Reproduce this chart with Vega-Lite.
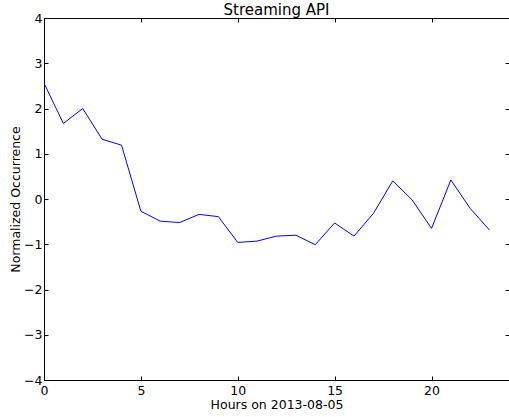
{
  "$schema": "https://vega.github.io/schema/vega-lite/v6.json",
  "autosize": "none",
  "width": 465,
  "height": 362,
  "padding": {"left": 44, "top": 18, "right": 0, "bottom": 37},
  "config": {
    "font": "DejaVu Sans",
    "view": {"stroke": "#000000", "strokeWidth": 1},
    "axis": {"grid": false, "domainColor": "#000000", "tickColor": "#000000", "labelColor": "#000000", "titleColor": "#000000", "labelFont": "DejaVu Sans", "titleFont": "DejaVu Sans", "labelFontSize": 12.5, "titleFontSize": 12.5, "titleFontWeight": "normal", "tickSize": -4, "tickWidth": 1}
  },
  "title": {"text": "Streaming API", "font": "DejaVu Sans", "fontSize": 15, "fontWeight": "normal", "color": "#000000", "offset": -6, "anchor": "middle"},
  "data": {"values": [
    {"hour": 0, "value": 2.56},
    {"hour": 1, "value": 1.67},
    {"hour": 2, "value": 2.0},
    {"hour": 3, "value": 1.32},
    {"hour": 4, "value": 1.19},
    {"hour": 5, "value": -0.27},
    {"hour": 6, "value": -0.49},
    {"hour": 7, "value": -0.52},
    {"hour": 8, "value": -0.34},
    {"hour": 9, "value": -0.39},
    {"hour": 10, "value": -0.96},
    {"hour": 11, "value": -0.93},
    {"hour": 12, "value": -0.82},
    {"hour": 13, "value": -0.8},
    {"hour": 14, "value": -1.01},
    {"hour": 15, "value": -0.53},
    {"hour": 16, "value": -0.82},
    {"hour": 17, "value": -0.32},
    {"hour": 18, "value": 0.4},
    {"hour": 19, "value": -0.02},
    {"hour": 20, "value": -0.65},
    {"hour": 21, "value": 0.42},
    {"hour": 22, "value": -0.21},
    {"hour": 23, "value": -0.69}
  ]},
  "layer": [
    {
      "mark": {"type": "line", "color": "#0000ff", "strokeWidth": 1, "clip": true},
      "encoding": {
        "x": {"field": "hour", "type": "quantitative", "scale": {"domain": [0, 24], "nice": false, "zero": false},
              "axis": {"orient": "bottom", "title": "Hours on 2013-08-05", "values": [0, 5, 10, 15, 20], "labelPadding": 8, "titlePadding": 2, "labelFlush": false}},
        "y": {"field": "value", "type": "quantitative", "scale": {"domain": [-4, 4], "nice": false, "zero": false},
              "axis": {"orient": "left", "title": "Normalized Occurrence", "values": [-4, -3, -2, -1, 0, 1, 2, 3, 4], "labelPadding": 6, "titlePadding": 1, "labelFlush": false}}
      }
    },
    {
      "mark": {"type": "line", "opacity": 0},
      "encoding": {
        "x": {"field": "hour", "type": "quantitative", "scale": {"domain": [0, 24], "nice": false, "zero": false},
              "axis": {"orient": "top", "title": null, "labels": false, "values": [0, 5, 10, 15, 20]}},
        "y": {"field": "value", "type": "quantitative", "scale": {"domain": [-4, 4], "nice": false, "zero": false},
              "axis": {"orient": "right", "title": null, "labels": false, "values": [-4, -3, -2, -1, 0, 1, 2, 3, 4]}}
      }
    }
  ],
  "resolve": {"axis": {"x": "independent", "y": "independent"}}
}
